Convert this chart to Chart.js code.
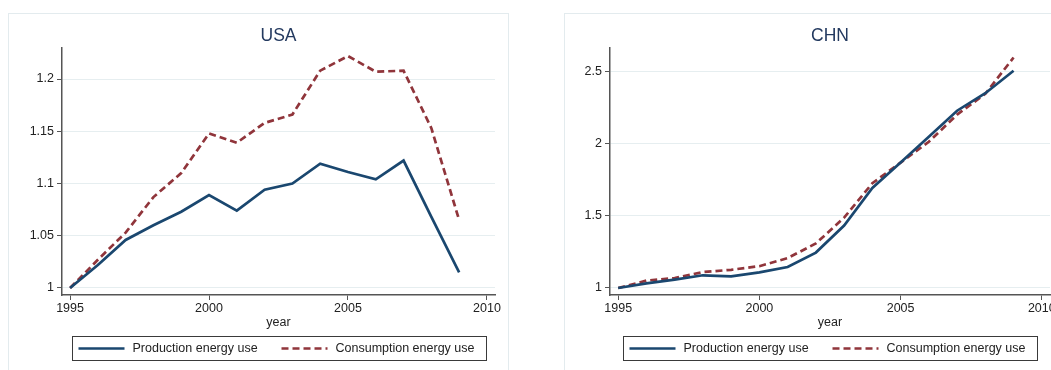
<!DOCTYPE html>
<html>
<head>
<meta charset="utf-8">
<script src="https://cdn.jsdelivr.net/npm/chart.js@4"></script>
<style>
  html, body { margin: 0; padding: 0; background: #ffffff; }
  body { width: 1051px; height: 370px; overflow: hidden; position: relative; }
  .frame { position: absolute; border: 1px solid #e3ebee; box-sizing: border-box; }
  .holder { position: absolute; }
  canvas { display: block; }
</style>
</head>
<body>
<div class="frame" style="left:8px; top:13px; width:501px; height:400px;"></div>
<div class="frame" style="left:564px; top:13px; width:501px; height:400px;"></div>
<div class="holder" style="left:8px; top:13px;"><canvas id="usa" width="500" height="357"></canvas></div>
<div class="holder" style="left:564px; top:13px;"><canvas id="chn" width="500" height="357"></canvas></div>
<script>
// Energy use indexed to 1995 = 1
const years = [1995, 1996, 1997, 1998, 1999, 2000, 2001, 2002, 2003, 2004, 2005, 2006, 2007, 2008, 2009];

const usaProduction  = [1.000, 1.022, 1.046, 1.060, 1.073, 1.089, 1.074, 1.094, 1.100, 1.119, 1.111, 1.104, 1.122, 1.068, 1.015];
const usaConsumption = [1.000, 1.027, 1.053, 1.087, 1.110, 1.148, 1.139, 1.158, 1.166, 1.208, 1.222, 1.207, 1.208, 1.153, 1.065];

const chnProduction  = [1.000, 1.032, 1.058, 1.088, 1.080, 1.108, 1.145, 1.245, 1.432, 1.692, 1.868, 2.046, 2.227, 2.348, 2.504];
const chnConsumption = [1.000, 1.051, 1.069, 1.110, 1.126, 1.151, 1.207, 1.308, 1.487, 1.725, 1.868, 2.012, 2.200, 2.344, 2.595];

const yearTicks = [1995, 2000, 2005, 2010];
const usaTicks = [1, 1.05, 1.1, 1.15, 1.2];
const chnTicks = [1, 1.5, 2, 2.5];

const seriesLabels = ['Production energy use', 'Consumption energy use'];

const NAVY = '#1a476f';
const MAROON = '#90353b';
const AXIS = '#555555';
const TEXT = '#222222';
const FONT = '"Liberation Sans", Arial, Helvetica, sans-serif';
const LABEL_SIZE = 12.5;

Chart.defaults.font.family = FONT;
Chart.defaults.font.size = LABEL_SIZE;
Chart.defaults.color = TEXT;

// Boxed legend centred under the plot region
const framedLegend = {
  id: 'framedLegend',
  afterDraw(chart) {
    const { ctx, chartArea } = chart;
    const cx = (chartArea.left + chartArea.right) / 2;
    const x0 = Math.round(cx - 207) + 0.5;
    const top = Math.round(chartArea.bottom + 41) + 0.5;
    const w = 414, h = 24;
    const yMid = top + h / 2;
    const slots = [{ line: 6, text: 60 }, { line: 209, text: 263 }];
    ctx.save();
    ctx.strokeStyle = '#3a3a3a';
    ctx.lineWidth = 1;
    ctx.strokeRect(x0, top, w, h);
    chart.data.datasets.forEach((ds, i) => {
      const s = slots[i];
      ctx.beginPath();
      ctx.setLineDash(ds.borderDash || []);
      ctx.strokeStyle = ds.borderColor;
      ctx.lineWidth = ds.borderWidth;
      ctx.moveTo(x0 + s.line, yMid);
      ctx.lineTo(x0 + s.line + 46, yMid);
      ctx.stroke();
      ctx.setLineDash([]);
      ctx.fillStyle = TEXT;
      ctx.font = LABEL_SIZE + 'px ' + FONT;
      ctx.textBaseline = 'middle';
      ctx.textAlign = 'left';
      ctx.fillText(ds.label, x0 + s.text, yMid + 0.5);
    });
    ctx.restore();
  }
};

function toPoints(values) {
  return years.map((yr, i) => ({ x: yr, y: values[i] }));
}

function makePanel(id, title, production, consumption, yMin, yMax, yTicks, yAxisWidth, padRight) {
  return new Chart(document.getElementById(id), {
    type: 'line',
    data: {
      datasets: [
        {
          label: seriesLabels[0],
          data: toPoints(production),
          borderColor: NAVY,
          borderWidth: 2.7,
          pointRadius: 0,
          tension: 0,
          fill: false
        },
        {
          label: seriesLabels[1],
          data: toPoints(consumption),
          borderColor: MAROON,
          borderWidth: 2.7,
          borderDash: [7, 4],
          pointRadius: 0,
          tension: 0,
          fill: false
        }
      ]
    },
    options: {
      responsive: false,
      animation: false,
      devicePixelRatio: 1,
      layout: { padding: { left: 0, right: padRight, top: 0, bottom: 39 } },
      plugins: {
        legend: { display: false },
        tooltip: { enabled: false },
        title: {
          display: true,
          text: title,
          fullSize: false,
          color: '#23395f',
          font: { size: 17.5, weight: 'normal' },
          padding: { top: 12.5, bottom: 1.5 }
        }
      },
      scales: {
        x: {
          type: 'linear',
          min: 1994.71,
          max: 2010.29,
          afterBuildTicks: s => { s.ticks = yearTicks.map(v => ({ value: v })); },
          afterFit: s => { s.height = 36; },
          ticks: {
            autoSkip: false,
            maxRotation: 0,
            padding: 1,
            color: TEXT,
            callback: v => String(v)
          },
          grid: { drawOnChartArea: false, drawTicks: true, tickLength: 5, tickColor: AXIS, tickWidth: 1 },
          border: { display: true, color: AXIS, width: 1.5 },
          title: { display: true, text: 'year', color: TEXT, font: { size: LABEL_SIZE }, padding: { top: 0, bottom: 1 } }
        },
        y: {
          type: 'linear',
          min: yMin,
          max: yMax,
          afterBuildTicks: s => { s.ticks = yTicks.map(v => ({ value: v })); },
          afterFit: s => { s.width = yAxisWidth; },
          ticks: {
            padding: 3,
            color: TEXT,
            callback: v => String(+Number(v).toFixed(2))
          },
          grid: { color: '#e6eef0', lineWidth: 1, drawTicks: true, tickLength: 5, tickColor: AXIS, tickWidth: 1 },
          border: { display: true, color: AXIS, width: 1.5 }
        }
      }
    },
    plugins: [framedLegend]
  });
}

makePanel('usa', 'USA', usaProduction, usaConsumption, 0.9933, 1.2297, usaTicks, 54, 13);
makePanel('chn', 'CHN', chnProduction, chnConsumption, 0.9515, 2.661, chnTicks, 46, 14);
</script>
</body>
</html>
